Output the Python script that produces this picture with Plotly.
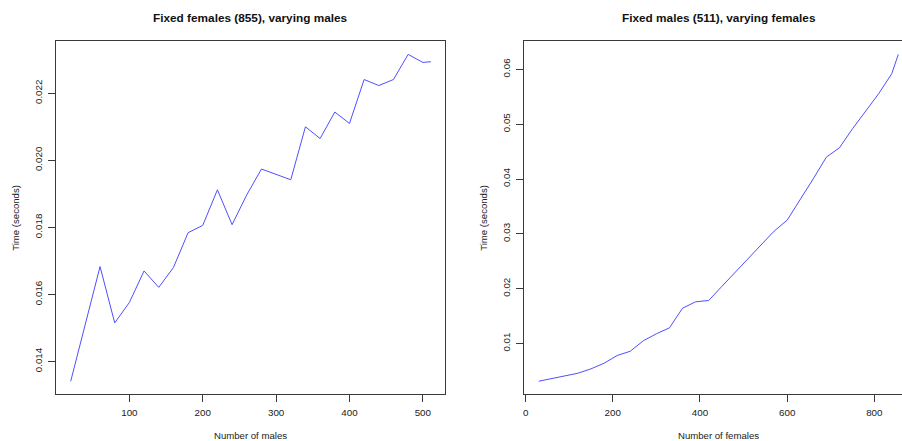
import plotly.graph_objects as go

W, H = 902, 441

# Left panel: fixed females (855), varying males
males = [20, 40, 60, 80, 100, 120, 140, 160, 180, 200, 220, 240, 260, 280,
         300, 320, 340, 360, 380, 400, 420, 440, 460, 480, 500, 511]
time_males = [0.01341, 0.01510, 0.01683, 0.01515, 0.01576, 0.01670, 0.01621,
              0.01680, 0.01784, 0.01806, 0.01912, 0.01808, 0.01897, 0.01974,
              0.01958, 0.01942, 0.02100, 0.02065, 0.02144, 0.02110, 0.02241,
              0.02223, 0.02241, 0.02316, 0.02292, 0.02294]

# Right panel: fixed males (511), varying females
females = [30, 60, 90, 120, 150, 180, 210, 240, 270, 300, 330, 360, 390, 420,
           450, 480, 510, 540, 570, 600, 630, 660, 690, 720, 750, 780, 810,
           840, 855]
time_females = [0.00312, 0.00361, 0.00411, 0.00458, 0.00538, 0.00641, 0.00781,
                0.00859, 0.01050, 0.01177, 0.01286, 0.01644, 0.01761, 0.01785,
                0.02040, 0.02293, 0.02546, 0.02790, 0.03049, 0.03250, 0.03620,
                0.04006, 0.04400, 0.04571, 0.04918, 0.05230, 0.05557, 0.05922,
                0.06274]

left_xticks = [100, 200, 300, 400, 500]
left_yticks = [0.014, 0.016, 0.018, 0.020, 0.022]
right_xticks = [0, 200, 400, 600, 800]
right_yticks = [0.01, 0.02, 0.03, 0.04, 0.05, 0.06]

title_left = "Fixed females (855), varying males"
title_right = "Fixed males (511), varying females"
xlab_left = "Number of males"
xlab_right = "Number of females"
ylab = "Time (seconds)"

FONT = "Liberation Sans, Arial, sans-serif"
AX = "#3a3a3a"
TXT = "#222222"
LINE = "#4f4fff"

def px_x(p):
    return p / W

def px_y(p):
    return (H - p) / H

L1, R1 = 56.3, 445.3
L2 = 524.3
TOP, BOT = 41.3, 394.3

fig = go.Figure()
fig.add_trace(go.Scatter(x=males, y=time_males, mode="lines",
                         line=dict(color=LINE, width=1),
                         xaxis="x", yaxis="y", showlegend=False,
                         hoverinfo="skip"))
fig.add_trace(go.Scatter(x=females, y=time_females, mode="lines",
                         line=dict(color=LINE, width=1),
                         xaxis="x2", yaxis="y2", showlegend=False,
                         hoverinfo="skip"))

def rng(lo, hi):
    pad = (hi - lo) * 0.04
    return [lo - pad, hi + pad]

xr1 = rng(min(males), max(males))
yr1 = rng(min(time_males), max(time_males))
xr2_full = rng(min(females), max(females))
yr2 = rng(min(time_females), max(time_females))
# the right panel is cut off by the image edge
xr2 = [xr2_full[0], xr2_full[0] + (xr2_full[1] - xr2_full[0]) * (W - L2) / (912.7 - L2)]

tickfont = dict(family=FONT, size=9.8, color=TXT)
common_x = dict(showgrid=False, zeroline=False, showline=True, linecolor=AX,
                linewidth=1, ticks="outside", ticklen=7, tickcolor=AX,
                tickfont=tickfont, automargin=False, ticklabelstandoff=2)
common_y = dict(showgrid=False, zeroline=False, showline=True, linecolor=AX,
                linewidth=1, ticks="outside", ticklen=7, tickcolor=AX,
                tickfont=tickfont, tickangle=-90, automargin=False,
                ticklabelstandoff=2)

dy = [px_y(BOT), px_y(TOP)]
fig.update_layout(
    width=W, height=H,
    margin=dict(l=0, r=0, t=0, b=0, pad=0),
    paper_bgcolor="white", plot_bgcolor="white",
    hovermode=False,
    xaxis=dict(domain=[px_x(L1), px_x(R1)], range=xr1, anchor="y",
               tickvals=left_xticks, ticktext=[str(v) for v in left_xticks],
               mirror=True, **common_x),
    yaxis=dict(domain=dy, range=yr1, anchor="x",
               tickvals=left_yticks, ticktext=["%.3f" % v for v in left_yticks],
               mirror=True, **common_y),
    xaxis2=dict(domain=[px_x(L2), 1.0], range=xr2, anchor="y2",
                tickvals=right_xticks, ticktext=[str(v) for v in right_xticks],
                mirror=True, **common_x),
    yaxis2=dict(domain=dy, range=yr2, anchor="x2",
                tickvals=right_yticks, ticktext=["%.2f" % v for v in right_yticks],
                mirror=False, **common_y),
)

ann = []
tfont = dict(family=FONT, size=11.8, color="#111111")
ann.append(dict(text="<b>%s</b>" % title_left, x=px_x((L1 + R1) / 2), y=px_y(17.7),
                xref="paper", yref="paper", showarrow=False, font=tfont,
                xanchor="center", yanchor="middle"))
ann.append(dict(text="<b>%s</b>" % title_right, x=px_x(718.5), y=px_y(17.7),
                xref="paper", yref="paper", showarrow=False, font=tfont,
                xanchor="center", yanchor="middle"))
lfont = dict(family=FONT, size=9.6, color=TXT)
ann.append(dict(text=xlab_left, x=px_x((L1 + R1) / 2), y=px_y(435.5),
                xref="paper", yref="paper", showarrow=False, font=lfont,
                xanchor="center", yanchor="middle"))
ann.append(dict(text=xlab_right, x=px_x(718.5), y=px_y(435.5),
                xref="paper", yref="paper", showarrow=False, font=lfont,
                xanchor="center", yanchor="middle"))
ann.append(dict(text=ylab, x=px_x(16), y=px_y((TOP + BOT) / 2),
                xref="paper", yref="paper", showarrow=False, font=lfont,
                textangle=-90, xanchor="center", yanchor="middle"))
ann.append(dict(text=ylab, x=px_x(484), y=px_y((TOP + BOT) / 2),
                xref="paper", yref="paper", showarrow=False, font=lfont,
                textangle=-90, xanchor="center", yanchor="middle"))
fig.update_layout(annotations=ann)

fig.write_html("out.html",
               config={"displayModeBar": False, "staticPlot": True},
               post_script="document.body.style.margin='0';document.body.style.padding='0';document.body.style.overflow='hidden';")
